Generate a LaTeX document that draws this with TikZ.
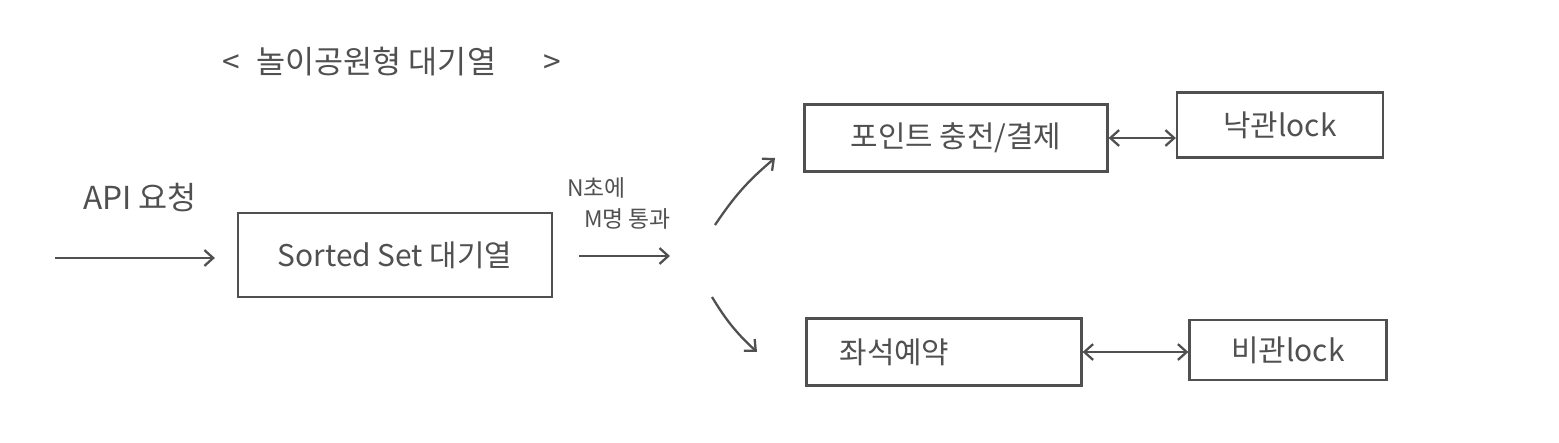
\documentclass[tikz,border=0pt]{standalone}
\usepackage{fontspec}
\setmainfont{Noto Sans CJK KR}
\usetikzlibrary{arrows.meta,positioning}
\definecolor{PenGray}{HTML}{505050}
\tikzset{
  qbox/.style={draw=PenGray,line width=1.3pt,inner sep=0pt},
  pen/.style={draw=PenGray,line width=1.3pt,-{Straight Barb[length=5pt,width=9pt]}},
  pen2/.style={pen,{Straight Barb[length=5pt,width=9pt]}-{Straight Barb[length=5pt,width=9pt]}},
}

\begin{document}
\begin{tikzpicture}[x=0.02cm,y=-0.02cm,font=\fontsize{17}{20}\selectfont,text=PenGray]
  \useasboundingbox (0,0) rectangle (1559,443);
  % title
  \node[font=\fontsize{18}{21}\selectfont] (title) at (392,62) {<\enspace 놀이공원형 대기열\quad\enspace >};
  % boxes
  \node[qbox,minimum width=6.28cm,minimum height=1.68cm] (queue) at (395,255) {Sorted Set 대기열};
  \node[qbox,minimum width=6.06cm,minimum height=1.34cm] (charge) at (956,138) {포인트 충전/결제};
  \node[qbox,minimum width=4.12cm,minimum height=1.30cm] (optLock) at (1280,125) {낙관lock};
  \node[qbox,minimum width=5.50cm,minimum height=1.34cm] (seat) at (944,352) {\makebox[4.18cm][l]{좌석예약}};
  \node[qbox,minimum width=3.94cm,minimum height=1.20cm] (pesLock) at (1288,350) {비관lock};
  % labels
  \node[font=\fontsize{18}{21}\selectfont] (apiNote) at (140,198) {API 요청};
  \node[anchor=west,font=\fontsize{13}{15}\selectfont] (passNote) at (561,188) {N초에};
  \node[anchor=west,font=\fontsize{13}{15}\selectfont] (passNote2) at (578,219) {M명 통과};
  % free ends
  \coordinate (apiStart) at (55,258);
  \coordinate (gate) at (670,256);
  \coordinate (forkU) at (715,225);
  \coordinate (tipU) at (775,158);
  \coordinate (forkD) at (712,297);
  \coordinate (tipD) at (757,352);
  % connectors
  \draw[pen,shorten >=0.44cm] (apiStart) -- (apiStart -| queue.west);
  \draw[pen,shorten <=0.52cm] (queue.east |- gate) -- (gate);
  \draw[pen] (forkU) to[bend left=8] (tipU);
  \draw[pen] (forkD) to[bend right=8] (tipD);
  \draw[pen2] (charge.east) -- (charge.east -| optLock.west);
  \draw[pen2] (seat.east) -- (seat.east -| pesLock.west);
\end{tikzpicture}
\end{document}
